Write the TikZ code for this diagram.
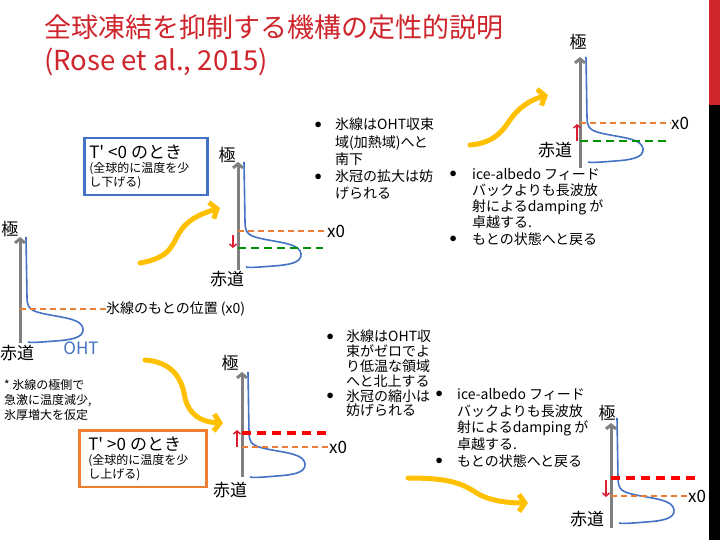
\documentclass[tikz,border=0pt]{standalone}
\usepackage{fontspec}
\setmainfont{Noto Sans CJK JP}[Ligatures=TeXOff]
\usepackage{xcolor}
\usepackage{tikz}
\usetikzlibrary{arrows.meta,positioning}
\definecolor{titlered}{RGB}{206,38,44}
\definecolor{ohtblue}{RGB}{68,114,196}
\definecolor{lineorange}{RGB}{237,125,49}
\definecolor{linegreen}{RGB}{0,146,0}
\definecolor{flowyellow}{RGB}{255,192,0}
\definecolor{axisgray}{RGB}{128,128,128}
\definecolor{shiftred}{RGB}{222,30,50}
\newcommand{\fs}[2]{\fontsize{#1}{#2}\selectfont}
\newcommand{\bul}[1]{\llap{\raisebox{1.5pt}{$\bullet$}\hspace{#1}}}
\tikzset{
  ohtcurve/.pic={
    \draw[oht] (6,-105) -- (7,-45) .. controls (7,-33) and (11,-31) .. (25,-28)
      .. controls (45,-24) and (62,-23) .. (63,-13)
      .. controls (64,-4) and (50,-2) .. (35,-1)
      .. controls (22,0) and (12,1) .. (8,0);
  }
}

\begin{document}
\begin{tikzpicture}[x=1pt,y=-1pt,
    axis/.style={draw=axisgray,line width=3pt,-{Straight Barb[length=4pt,width=10pt]}},
    oht/.style={draw=ohtblue,line width=1.6pt},
    oldline/.style={draw=lineorange,line width=2pt,dash pattern=on 6pt off 4pt},
    coldline/.style={draw=linegreen,line width=2.8pt,dash pattern=on 8pt off 5pt},
    hotline/.style={draw=red,line width=3.2pt,dash pattern=on 9pt off 6pt},
    shiftarrow/.style={draw=shiftred,line width=1.5pt,-{Straight Barb[length=3pt,width=7pt]}},
    flow/.style={draw=flowyellow,line width=5pt,line cap=round,-{Straight Barb[length=6pt,width=17pt]}},
    tag/.style={inner sep=0pt,font=\fs{17}{17}},
    xlabel/.style={inner sep=0pt,anchor=west,font=\fs{17}{17}},
    casebox/.style={draw,line width=2.5pt,anchor=north west,align=left,
      inner ysep=6.5pt,font=\fs{12}{14}},
    notes/.style={inner sep=0pt,anchor=north west,align=left},
  ]
  \useasboundingbox (0,0) rectangle (720,540);
  \fill[white] (0,0) rectangle (720,540);
  \fill[titlered] (709,0) rectangle (720,105);
  \fill[black] (709,105) rectangle (720,540);

  % title
  \node[anchor=west,inner sep=0pt,text=titlered,font=\fs{27}{27}] (title) at (44,27)
    {全球凍結を抑制する機構の定性的説明};
  \node[anchor=west,inner sep=0pt,text=titlered,font=\fs{27.5}{27.5}] (cite) at (44,62)
    {(Rose et al., 2015)};

  % basic state
  \coordinate (eqA) at (20,343);
  \coordinate (poleA) at (20,237);
  \draw[axis] (eqA) -- (poleA);
  \pic at (20,342) {ohtcurve};
  \node[tag] (kyokuA) at (10,229) {極};
  \node[tag] (sekidoA) at (17,353) {赤道};
  \node[inner sep=0pt,anchor=west,font=\fs{14}{16}] (origin) at (106,309) {氷線のもとの位置 (x0)};
  \draw[oldline] (20,309) -- (origin.west);
  \node[tag,text=ohtblue] (ohtlabel) at (81,348) {OHT};
  \node[notes,font=\fs{12}{15}] (assume) at (4,379) {* 氷線の極側で\\急激に温度減少,\\氷厚増大を仮定};

  % cooling case
  \node[casebox,draw=ohtblue,inner xsep=5pt,text width=113pt] (coolcase) at (83,137)
    {{\fs{17}{20}T' <0 のとき}\\(全球的に温度を少\\し下げる)};
  \draw[flow] (140,263) .. controls (170,258) and (172,245) .. (178,235)
    .. controls (186,220) and (200,214) .. (220,208);
  \coordinate (eqB) at (238,270);
  \coordinate (poleB) at (238,162);
  \draw[axis] (eqB) -- (poleB);
  \pic at (238,267) {ohtcurve};
  \node[tag] (kyokuB) at (227,155) {極};
  \node[tag] (sekidoB) at (227,279) {赤道};
  \node[xlabel] (xzeroB) at (327,231) {x0};
  \draw[oldline] (238,231) -- (xzeroB.west);
  \draw[coldline] (238,248) -- (323,248);
  \draw[shiftarrow] (233,235) -- (233,248);
  \node[notes,font=\fs{14}{17.2}] (southnote) at (335,118)
    {\bul{13.5pt}氷線はOHT収束\\域(加熱域)へと\\南下\\\bul{13.5pt}氷冠の拡大は妨\\げられる};

  \draw[flow] (470,145) .. controls (495,143) and (503,130) .. (510,120)
    .. controls (518,108) and (530,100) .. (548,95);
  \coordinate (eqC) at (580,168);
  \coordinate (poleC) at (580,57);
  \draw[axis] (eqC) -- (poleC);
  \pic at (580,162) {ohtcurve};
  \node[tag] (kyokuC) at (578,42) {極};
  \node[tag] (sekidoC) at (555,150) {赤道};
  \node[xlabel] (xzeroC) at (671,123) {x0};
  \draw[oldline] (580,123) -- (xzeroC.west);
  \draw[coldline] (580,141) -- (668,141);
  \draw[shiftarrow] (577,141) -- (577,124);
  \node[notes,font=\fs{14}{16.2}] (coolback) at (472,168)
    {\bul{15.5pt}ice-albedo フィード\\バックよりも長波放\\射によるdamping が\\卓越する.\\\bul{15.5pt}もとの状態へと戻る};

  % warming case
  \node[casebox,draw=lineorange,inner xsep=9pt,text width=109pt] (warmcase) at (78,429)
    {{\fs{17}{20}T' >0 のとき}\\(全球的に温度を少\\し上げる)};
  \draw[flow] (145,360) .. controls (172,362) and (182,378) .. (185,398)
    .. controls (189,414) and (200,422) .. (223,423);
  \coordinate (eqD) at (242,477);
  \coordinate (poleD) at (242,372);
  \draw[axis] (eqD) -- (poleD);
  \pic at (242,477) {ohtcurve};
  \node[tag] (kyokuD) at (230,363) {極};
  \node[tag] (sekidoD) at (230,490) {赤道};
  \node[xlabel] (xzeroD) at (329,447) {x0};
  \draw[hotline] (242,433) -- (327,433);
  \draw[oldline] (242,447) -- (xzeroD.west);
  \draw[shiftarrow] (237,447) -- (237,430);
  \node[notes,font=\fs{14}{14.8}] (northnote) at (346,330)
    {\bul{12.5pt}氷線はOHT収\\束がゼロでよ\\り低温な領域\\へと北上する\\\bul{12.5pt}氷冠の縮小は\\妨げられる};

  \draw[flow] (408,478) .. controls (445,478) and (460,482) .. (475,492)
    .. controls (487,500) and (505,503) .. (528,503);
  \coordinate (eqE) at (611,528);
  \coordinate (poleE) at (611,423);
  \draw[axis] (eqE) -- (poleE);
  \pic at (611,523) {ohtcurve};
  \node[tag] (kyokuE) at (607,413) {極};
  \node[tag] (sekidoE) at (587,519) {赤道};
  \node[xlabel] (xzeroE) at (688,496) {x0};
  \draw[hotline] (611,478) -- (697,478);
  \draw[oldline] (611,496) -- (xzeroE.west);
  \draw[shiftarrow] (606,480) -- (606,497);
  \node[notes,font=\fs{14}{16.7}] (warmback) at (457,388)
    {\bul{14.5pt}ice-albedo フィード\\バックよりも長波放\\射によるdamping が\\卓越する.\\\bul{14.5pt}もとの状態へと戻る};
\end{tikzpicture}
\end{document}
